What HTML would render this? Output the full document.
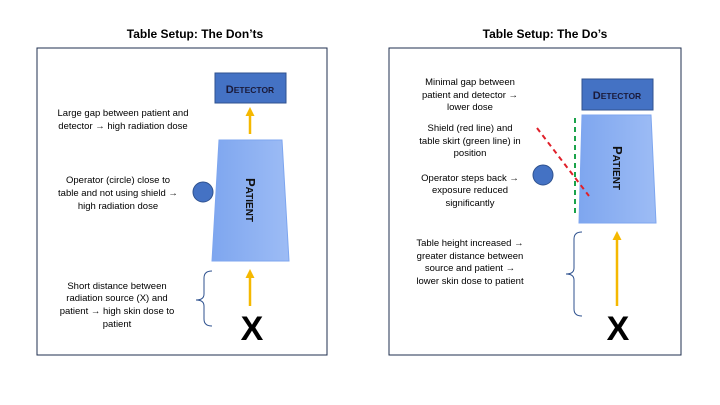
<!DOCTYPE html><html><head><style>body{margin:0;background:#fff}svg{display:block}text{font-family:"Liberation Sans",sans-serif}</style></head><body>
<svg width="720" height="405" viewBox="0 0 720 405">
<defs><linearGradient id="g" x1="0" x2="1"><stop offset="0" stop-color="#7ea6ef"/><stop offset="1" stop-color="#9dbcf5"/></linearGradient>
<marker id="a" markerUnits="userSpaceOnUse" markerWidth="9" markerHeight="9" refX="2" refY="4.5" orient="auto"><path d="M0,0L9,4.5L0,9z" fill="#f5b800"/></marker></defs>
<g font-weight="bold" font-size="12" text-anchor="middle" fill="#000"><text x="195" y="38">Table Setup: The Don’ts</text><text x="545" y="38">Table Setup: The Do’s</text></g>
<rect x="37" y="48" width="290" height="307" fill="none" stroke="#1f2f4f" stroke-width="1"/>
<rect x="389" y="48" width="292" height="307" fill="none" stroke="#1f2f4f" stroke-width="1"/>
<!-- left -->
<rect x="215" y="73" width="71" height="30" fill="#4472c4" stroke="#2f528f"/>
<text x="250" y="93" font-size="11" font-weight="bold" text-anchor="middle" fill="#1a1a3a">D<tspan font-size="8.5">ETECTOR</tspan></text>
<line x1="250" y1="134" x2="250" y2="114" stroke="#f5b800" stroke-width="2.5" marker-end="url(#a)"/>
<polygon points="219,140 282,140 289,261 212,261" fill="url(#g)" stroke="#7ea6ef"/>
<text transform="translate(246,200) rotate(90)" font-size="13" font-weight="bold" text-anchor="middle" fill="#111">P<tspan font-size="10">ATIENT</tspan></text>
<circle cx="203" cy="192" r="10" fill="#4472c4" stroke="#2f528f"/>
<line x1="250" y1="306" x2="250" y2="276" stroke="#f5b800" stroke-width="2.5" marker-end="url(#a)"/>
<text x="252" y="340" font-size="34" font-weight="bold" text-anchor="middle">X</text>
<path d="M212,271 Q204,271 204,278 V294 Q204,300 196,300 Q204,300 204,306 V319 Q204,326 212,326" fill="none" stroke="#2f528f" stroke-width="1"/>
<g font-size="9.5" text-anchor="middle"><text x="123" y="116">Large gap between patient and</text><text x="123" y="129">detector → high radiation dose</text>
<text x="118" y="183">Operator (circle) close to</text><text x="118" y="196">table and not using shield →</text><text x="118" y="209">high radiation dose</text>
<text x="117" y="289">Short distance between</text><text x="117" y="301">radiation source (X) and</text><text x="117" y="314">patient → high skin dose to</text><text x="117" y="327">patient</text></g>
<!-- right -->
<rect x="582" y="79" width="71" height="31" fill="#4472c4" stroke="#2f528f"/>
<text x="617" y="99" font-size="11" font-weight="bold" text-anchor="middle" fill="#1a1a3a">D<tspan font-size="8.5">ETECTOR</tspan></text>
<polygon points="582,115 651,115 656,223 579,223" fill="url(#g)" stroke="#7ea6ef"/>
<text transform="translate(613,168) rotate(90)" font-size="13" font-weight="bold" text-anchor="middle" fill="#111">P<tspan font-size="10">ATIENT</tspan></text>
<circle cx="543" cy="175" r="10" fill="#4472c4" stroke="#2f528f"/>
<line x1="575" y1="118" x2="575" y2="215" stroke="#1aa34a" stroke-width="2" stroke-dasharray="5,4"/>
<line x1="537" y1="128" x2="589" y2="196" stroke="#e0202a" stroke-width="2" stroke-dasharray="5,4"/>
<line x1="617" y1="306" x2="617" y2="238" stroke="#f5b800" stroke-width="2.5" marker-end="url(#a)"/>
<text x="618" y="340" font-size="34" font-weight="bold" text-anchor="middle">X</text>
<path d="M582,232 Q574,232 574,239 V268 Q574,274 566,274 Q574,274 574,280 V309 Q574,316 582,316" fill="none" stroke="#2f528f" stroke-width="1"/>
<g font-size="9.5" text-anchor="middle"><text x="470" y="85">Minimal gap between</text><text x="470" y="98">patient and detector →</text><text x="470" y="110">lower dose</text>
<text x="470" y="131">Shield (red line) and</text><text x="470" y="144">table skirt (green line) in</text><text x="470" y="156">position</text>
<text x="470" y="181">Operator steps back →</text><text x="470" y="193">exposure reduced</text><text x="470" y="206">significantly</text>
<text x="470" y="246">Table height increased →</text><text x="470" y="259">greater distance between</text><text x="470" y="271">source and patient →</text><text x="470" y="284">lower skin dose to patient</text></g>
</svg></body></html>
